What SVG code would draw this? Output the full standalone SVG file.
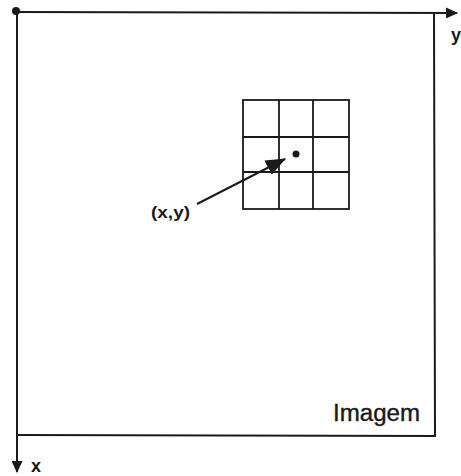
<svg xmlns="http://www.w3.org/2000/svg" width="461" height="476" viewBox="0 0 461 476">
<style>
.ln{stroke:#1a1a1a;stroke-width:2;fill:none}
.gr{stroke:#1a1a1a;stroke-width:1.8;fill:none}
.t{font-family:"Liberation Sans",Arial,sans-serif;fill:#1a1a1a}
</style>
<defs>
<marker id="ah" markerWidth="12" markerHeight="11" refX="11" refY="5.5" orient="auto" markerUnits="userSpaceOnUse" viewBox="0 0 12 11">
<path d="M0,0 L12,5.5 L0,11 z" fill="#1a1a1a"/>
</marker>
<marker id="ahb" markerWidth="20" markerHeight="16" refX="19" refY="8" orient="auto" markerUnits="userSpaceOnUse" viewBox="0 0 20 16">
<path d="M0,0 L20,8 L0,16 z" fill="#1a1a1a"/>
</marker>
</defs>
<rect width="461" height="476" fill="#ffffff"/>
<g id="connectors">
<line class="ln" x1="16" y1="12" x2="457" y2="13" marker-end="url(#ah)"/>
<line class="ln" x1="17" y1="12" x2="17" y2="472" marker-end="url(#ah)"/>
<line class="ln" x1="197" y1="204" x2="285" y2="159" marker-end="url(#ahb)"/>
</g>
<g id="image-border">
<polyline class="ln" points="434,13 435,436 17,435"/>
</g>
<g id="origin"><circle cx="16" cy="11" r="4" fill="#1a1a1a"/></g>
<g id="grid">
<rect class="gr" x="243" y="100" width="106" height="109"/>
<line class="gr" x1="279" y1="100" x2="279" y2="209"/>
<line class="gr" x1="313" y1="100" x2="313" y2="209"/>
<line class="gr" x1="243" y1="137" x2="349" y2="137"/>
<line class="gr" x1="243" y1="172" x2="349" y2="172"/>
<circle cx="296" cy="154" r="3.5" fill="#1a1a1a"/>
</g>
<g id="labels">
<text class="t" x="151" y="218" font-size="17" font-weight="bold" textLength="39" lengthAdjust="spacingAndGlyphs">(x,y)</text>
<text class="t" x="333" y="421" font-size="23" textLength="87" lengthAdjust="spacingAndGlyphs" stroke="#1a1a1a" stroke-width="0.4">Imagem</text>
<text class="t" x="451" y="41" font-size="18" font-weight="bold">y</text>
<text class="t" x="31" y="472" font-size="18" font-weight="bold">x</text>
</g>
</svg>
